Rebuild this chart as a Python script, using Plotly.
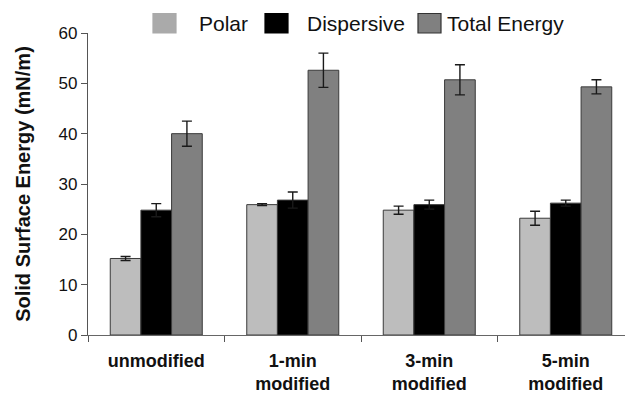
import plotly.graph_objects as go

# Surface energy components per treatment
categories = ["unmodified", "1-min modified", "3-min modified", "5-min modified"]
tick_labels = ["unmodified", "1-min<br>modified", "3-min<br>modified", "5-min<br>modified"]

polar = [15.2, 25.9, 24.8, 23.2]
polar_err = [0.4, 0.2, 0.8, 1.4]

dispersive = [24.8, 26.8, 25.9, 26.2]
dispersive_err = [1.3, 1.6, 0.9, 0.6]

total = [40.0, 52.6, 50.7, 49.3]
total_err = [2.5, 3.4, 3.0, 1.4]

series = [
    ("Polar", polar, polar_err, "#bdbdbd"),
    ("Dispersive", dispersive, dispersive_err, "#000000"),
    ("Total Energy", total, total_err, "#808080"),
]

W, H = 625, 395
ML, MR, MT, MB = 88, 0, 33, 60

fig = go.Figure()
for name, vals, errs, color in series:
    fig.add_trace(go.Bar(
        name=name,
        x=categories,
        y=vals,
        marker=dict(color=color, line=dict(color="#3a3a3a", width=1)),
        error_y=dict(type="data", array=errs, visible=True,
                     color="#1a1a1a", thickness=1.4, width=5),
        showlegend=False,
    ))

# Hand-drawn legend row above the plot area
pw = W - ML - MR
ph = H - MT - MB


def px_x(px):
    return (px - ML) / pw


def px_y(py):
    return (H - MB - py) / ph


legend_items = [
    ("Polar", "#aaaaaa", "#aaaaaa", 153, 197),
    ("Dispersive", "#000000", "#000000", 265, 305),
    ("Total Energy", "#808080", "#333333", 418, 445),
]
shapes = []
annotations = []
for label, fill, edge, sx, tx in legend_items:
    shapes.append(dict(type="rect", xref="paper", yref="paper",
                       x0=px_x(sx), x1=px_x(sx + 23), y0=px_y(33), y1=px_y(13.5),
                       fillcolor=fill, line=dict(color=edge, width=1.2)))
    annotations.append(dict(text=label, xref="paper", yref="paper",
                            x=px_x(tx), y=px_y(23.5), xanchor="left", yanchor="middle",
                            showarrow=False,
                            font=dict(family="Liberation Sans", size=21, color="#111111")))

fig.update_layout(
    width=W, height=H,
    margin=dict(l=ML, r=MR, t=MT, b=MB, autoexpand=False),
    paper_bgcolor="white", plot_bgcolor="white",
    barmode="group", bargap=0.326, bargroupgap=0,
    font=dict(family="Liberation Sans", color="#111111"),
    shapes=shapes,
    annotations=annotations,
    xaxis=dict(
        range=[-0.5, 3.434],
        tickmode="array", tickvals=categories, ticktext=tick_labels,
        tickson="boundaries", ticks="outside", ticklen=6, tickcolor="#555555",
        showline=True, linecolor="#666666", linewidth=1.2,
        showgrid=False, zeroline=False,
        tickfont=dict(family="Liberation Sans", size=18, color="#111111", weight="bold"),
        ticklabelstandoff=9,
    ),
    yaxis=dict(
        range=[0, 60], tickvals=[0, 10, 20, 30, 40, 50, 60],
        ticks="outside", ticklen=6, tickcolor="#555555",
        showline=True, linecolor="#555555", linewidth=1.2,
        showgrid=False, zeroline=False,
        tickfont=dict(family="Liberation Sans", size=17, color="#111111"),
        title=dict(text="Solid Surface Energy (mN/m)", standoff=22,
                   font=dict(family="Liberation Sans", size=20, color="#111111", weight="bold")),
    ),
)

fig.write_html("out.html")
